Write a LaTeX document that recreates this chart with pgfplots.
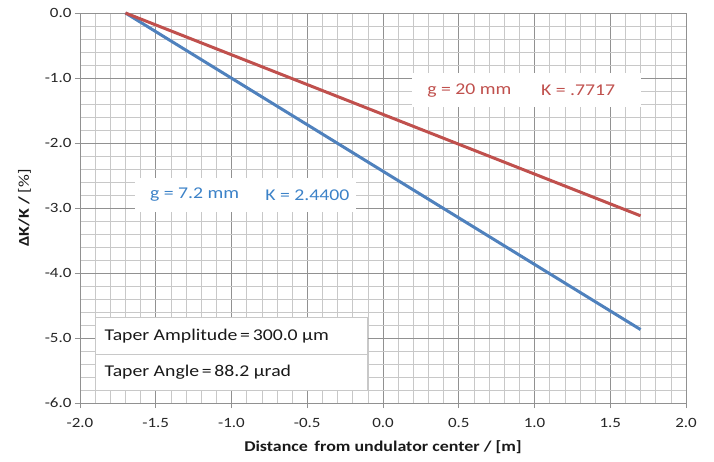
\documentclass[border=0pt]{standalone}
\usepackage{pgfplots}
\pgfplotsset{compat=1.18}
\usepackage{fontspec}
\setmainfont{Carlito}[FakeStretch=1.2]
\definecolor{xred}{RGB}{192,80,77}
\definecolor{xblue}{RGB}{79,129,189}
\definecolor{xtextblue}{RGB}{60,130,200}
\definecolor{majg}{RGB}{145,145,145}
\definecolor{ming}{RGB}{200,200,200}
\begin{document}
\begin{tikzpicture}
\begin{axis}[
  scale only axis,
  width=606bp, height=390bp,
  xmin=-2, xmax=2, ymin=-6, ymax=0,
  xtick={-2,-1.5,-1,-0.5,0,0.5,1,1.5,2},
  xticklabels={-2.0,-1.5,-1.0,-0.5,0.0,0.5,1.0,1.5,2.0},
  ytick={-6,-5,-4,-3,-2,-1,0},
  yticklabels={-6.0,-5.0,-4.0,-3.0,-2.0,-1.0,0.0},
  minor tick num=4,
  grid=both,
  major grid style={majg, line width=0.6bp},
  minor grid style={ming, line width=0.6bp},
  axis line style={majg, line width=0.8bp},
  tick style={majg, line width=0.8bp},
  major tick length=5bp, minor tick length=0pt,
  tick align=outside,
  xtick pos=bottom, ytick pos=left,
  ticklabel style={font=\fontsize{14.2}{16}\selectfont, text=black!85},
  xticklabel style={yshift=-7bp},
  xlabel={\textbf{Distance\, from undulator center / [m]}},
  ylabel={\textbf{ΔK/K /} [\%]},
  label style={font=\fontsize{15}{16}\selectfont, text=black!90},
  xlabel style={yshift=-6bp},
  ylabel style={yshift=7bp},
  clip=false,
]
\addplot[xblue, line width=3bp] coordinates {(-1.7,0) (1.7,-4.87)};
\addplot[xred, line width=3bp] coordinates {(-1.7,0) (1.7,-3.12)};

\fill[white] (axis cs:0.19,-0.92) rectangle (axis cs:1.70,-1.45);
\node[anchor=west, text=xred, font=\fontsize{16.5}{18}\selectfont] at (axis cs:0.27,-1.19) {g = 20 mm};
\node[anchor=west, text=xred, font=\fontsize{16.5}{18}\selectfont] at (axis cs:1.02,-1.19) {K = .7717};

\fill[white] (axis cs:-1.64,-2.54) rectangle (axis cs:-0.18,-3.06);
\node[anchor=west, text=xtextblue, font=\fontsize{16.5}{18}\selectfont] at (axis cs:-1.56,-2.80) {g = 7.2 mm};
\node[anchor=west, text=xtextblue, font=\fontsize{16.5}{18}\selectfont] at (axis cs:-0.80,-2.80) {K = 2.4400};

\filldraw[fill=white, draw=ming, line width=0.8bp] (axis cs:-1.90,-4.69) rectangle (axis cs:-0.10,-5.80);
\draw[ming, line width=0.8bp] (axis cs:-1.90,-5.25) -- (axis cs:-0.10,-5.25);
\node[anchor=west, text=black!90, font=\fontsize{16.5}{18}\selectfont] at (axis cs:-1.86,-4.97) {Taper Amplitude\,=\,300.0 µm};
\node[anchor=west, text=black!90, font=\fontsize{16.5}{18}\selectfont] at (axis cs:-1.86,-5.52) {Taper Angle\,=\,88.2 µrad};
\end{axis}
\path (current axis.south west) ++(-80bp,-59bp) rectangle ++(714bp,462bp);
\end{tikzpicture}
\end{document}
